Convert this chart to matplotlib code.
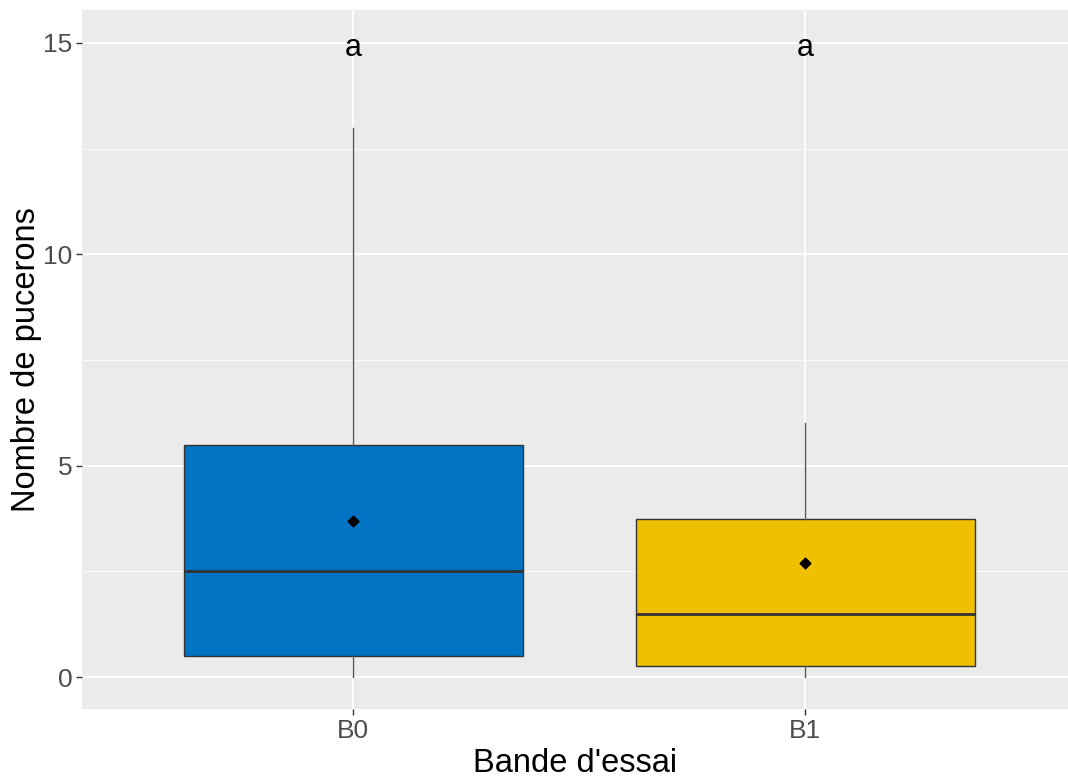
import matplotlib
matplotlib.use("Agg")
import matplotlib.pyplot as plt
import numpy as np

# Boxplot summary values
groups = ["B0", "B1"]
q1 = [0.5, 0.25]
median = [2.5, 1.5]
q3 = [5.5, 3.75]
wmin = [0.0, 0.0]
wmax = [13.0, 6.0]
means = [3.7, 2.7]
letters = ["a", "a"]
letter_y = 15
colors = ["#0073C2", "#EFC000"]

plt.rcParams["font.family"] = ["Liberation Sans", "DejaVu Sans"]

fig = plt.figure(figsize=(10.68, 7.78), dpi=100)
ax = fig.add_axes([82 / 1068, 69 / 778, 1 - 82 / 1068, 699 / 778])
ax.set_facecolor("#EBEBEB")

stats = []
for i, g in enumerate(groups):
    stats.append(dict(label=g, q1=q1[i], med=median[i], q3=q3[i],
                      whislo=wmin[i], whishi=wmax[i], mean=means[i], fliers=[]))

pos = np.arange(1, len(groups) + 1)
bp = ax.bxp(stats, positions=pos, widths=0.75, patch_artist=True,
            showcaps=False, showfliers=False, showmeans=False,
            boxprops=dict(edgecolor="#333333", linewidth=1.0),
            medianprops=dict(color="#333333", linewidth=2.0),
            whiskerprops=dict(color="#555555", linewidth=1.0),
            zorder=3)
for patch, c in zip(bp["boxes"], colors):
    patch.set_facecolor(c)

ax.scatter(pos, means, marker="D", s=30, color="black", zorder=4)

# significance letters, text box centred on y=15 like geom_text
for p, lab in zip(pos, letters):
    ax.annotate(lab, (p, letter_y), xytext=(0, -9.5), textcoords="offset points",
                ha="center", va="baseline", fontsize=22, color="black", zorder=5)

ax.set_xlim(0.4, 2 + (1068 - 805) / 452)
ax.set_ylim(-0.756, 15.78)
ax.set_yticks([0, 5, 10, 15])
ax.set_yticks([2.5, 7.5, 12.5], minor=True)
ax.set_xticks(pos)
ax.set_xticklabels(groups)

ax.grid(which="major", color="white", linewidth=1.3, zorder=0)
ax.grid(which="minor", axis="y", color="white", linewidth=0.6, zorder=0)
ax.set_axisbelow(True)
for s in ax.spines.values():
    s.set_visible(False)

ax.tick_params(which="major", length=4, width=1, color="#333333",
               labelsize=19, labelcolor="#4D4D4D", pad=3)
ax.tick_params(which="minor", length=0)

ax.set_xlabel("Bande d'essai", fontsize=23.5, color="black", labelpad=4)
ax.set_ylabel("Nombre de pucerons", fontsize=23.5, color="black", labelpad=1)

fig.savefig("out.png", dpi=100)
